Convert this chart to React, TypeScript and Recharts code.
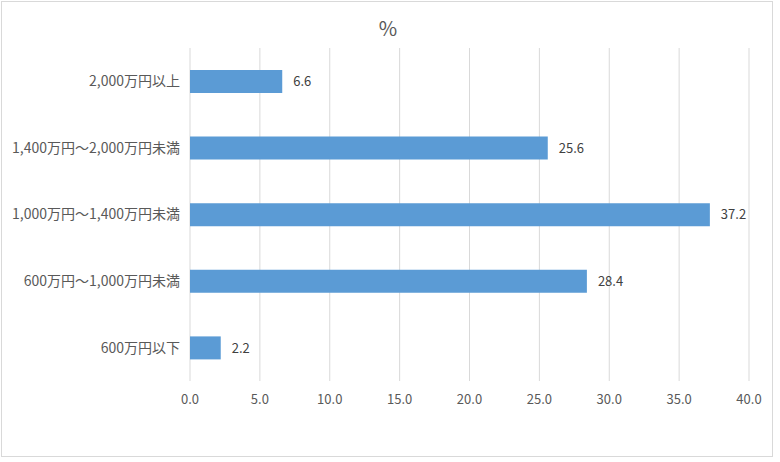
import { Bar, BarChart, CartesianGrid, LabelList, XAxis, YAxis } from "recharts";

const categories = [
  "2,000万円以上",
  "1,400万円～2,000万円未満",
  "1,000万円～1,400万円未満",
  "600万円～1,000万円未満",
  "600万円以下",
];
const shares = [6.6, 25.6, 37.2, 28.4, 2.2];
const xTicks = [0, 5, 10, 15, 20, 25, 30, 35, 40];

const data = categories.map((name, i) => ({ name, value: shares[i] }));

const font = '"Noto Sans CJK JP", "Noto Sans", sans-serif';

export default function App() {
  return (
    <div style={{ position: "absolute", left: 0, top: 0, width: 780, height: 462, background: "#fff" }}>
      <style>{"body{margin:0}"}</style>
      <div
        style={{
          position: "absolute",
          left: 1,
          top: 1,
          width: 770,
          height: 454,
          border: "1px solid #d9d9d9",
        }}
      />
      <div
        style={{
          position: "absolute",
          left: 0,
          width: 776,
          top: 13,
          textAlign: "center",
          fontFamily: font,
          fontSize: 20,
          color: "#595959",
        }}
      >
        %
      </div>
      <div style={{ position: "absolute", left: 0, top: 0 }}>
        <BarChart
          width={780}
          height={462}
          data={data}
          layout="vertical"
          barSize={23}
          margin={{ top: 48, right: 31, bottom: 51, left: 0 }}
        >
          <CartesianGrid horizontal={false} stroke="#d9d9d9" />
          <XAxis
            type="number"
            domain={[0, 40]}
            ticks={xTicks}
            tickFormatter={(v: number) => v.toFixed(1)}
            axisLine={false}
            tickLine={false}
            tickSize={0}
            tickMargin={14}
            height={30}
            tick={{ fill: "#595959", fontSize: 13, fontFamily: font }}
          />
          <YAxis
            type="category"
            dataKey="name"
            width={190}
            axisLine={false}
            tickLine={false}
            tickSize={0}
            tickMargin={10}
            tick={{ fill: "#595959", fontSize: 14, fontFamily: font }}
          />
          <Bar dataKey="value" fill="#5B9BD5" isAnimationActive={false}>
            <LabelList
              dataKey="value"
              position="right"
              offset={11}
              formatter={(v: number) => v.toFixed(1)}
              style={{ fill: "#404040", fontSize: 13, fontFamily: font }}
            />
          </Bar>
        </BarChart>
      </div>
    </div>
  );
}
